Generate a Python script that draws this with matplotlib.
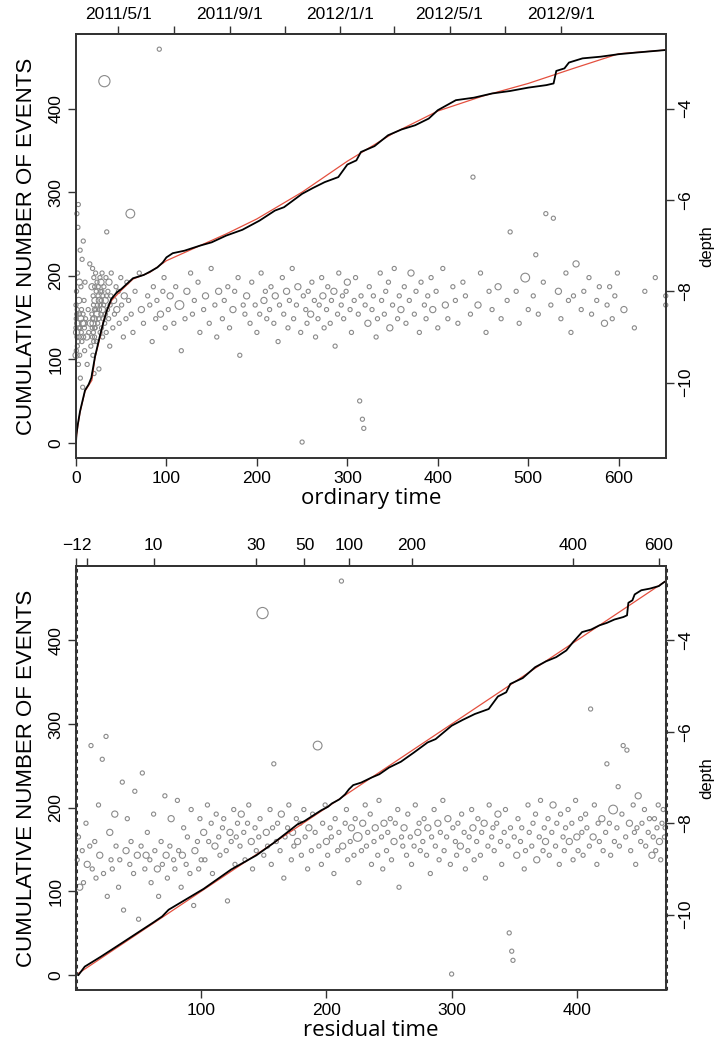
import numpy as np
import matplotlib
matplotlib.use('Agg')
import matplotlib.pyplot as plt
from matplotlib.transforms import ScaledTranslation

plt.rcParams['font.family'] = ['Liberation Sans', 'DejaVu Sans']

# compensator (theoretical cumulative number), red curve: ordinary time vs count
model_t = [0, 1, 2, 4.4, 10, 17.6, 21, 26.5, 30, 34, 39, 50, 63, 81.6, 100, 137, 166,
           200, 250, 300, 350, 400, 450, 500, 550, 600, 652]
model_c = [2, 12, 20, 36, 62, 75, 102, 126, 144, 158, 170, 182.5, 196, 204, 218, 236, 250,
           268, 300, 337, 370, 397, 415, 430, 448, 465.5, 470]

# observed cumulative number of events, black curve
obs_t = [0, 0.5, 2, 4.5, 10, 14, 17, 21, 26, 30, 34, 39, 45, 50, 58, 63, 75, 82, 90, 96,
         100, 107, 120, 137, 150, 166, 184, 203, 220, 230, 250, 262, 275, 290, 300, 310,
         315, 330, 345, 360, 375, 390, 400, 420, 440, 460, 480, 500, 520, 528, 531, 540,
         545, 560, 580, 600, 620, 652]
obs_c = [0, 10, 22, 38, 63, 70, 78, 103, 126, 143, 158, 172, 180, 184, 192, 197, 201,
         205, 210, 216, 222, 227, 230, 236, 240, 248, 255, 266, 278, 282, 298, 305, 312,
         318, 333, 338, 348, 355, 368, 375, 380, 388, 398, 410, 413, 418, 421, 425, 428,
         430, 445, 448, 455, 460, 462, 465, 467, 470]

# events: residual time, depth, size class (magnitude)
ev_res = [1, 2, 3, 5, 6, 8, 9, 11, 12, 13,
          15, 16, 18, 19, 21, 22, 24, 25, 27, 28,
          29, 31, 32, 34, 35, 37, 38, 40, 41, 43,
          44, 46, 47, 49, 50, 52, 53, 55, 56, 57,
          59, 60, 62, 63, 65, 66, 68, 69, 71, 72,
          73, 75, 76, 78, 79, 81, 82, 84, 85, 86,
          88, 89, 91, 92, 94, 95, 97, 98, 99, 100,
          102, 103, 105, 106, 108, 109, 111, 112, 114, 115,
          117, 118, 120, 121, 123, 124, 126, 127, 128, 129,
          131, 132, 134, 135, 137, 138, 140, 141, 143, 144,
          146, 147, 149, 150, 152, 153, 155, 156, 157, 158,
          160, 161, 163, 164, 166, 167, 169, 170, 172, 173,
          174, 176, 177, 179, 180, 182, 183, 185, 186, 188,
          189, 191, 193, 194, 196, 197, 199, 200, 201, 203,
          204, 206, 207, 209, 210, 212, 213, 215, 216, 217,
          219, 220, 222, 223, 225, 226, 228, 229, 231, 232,
          233, 235, 236, 238, 239, 241, 242, 244, 245, 246,
          248, 249, 251, 252, 254, 255, 257, 258, 260, 261,
          262, 264, 265, 267, 268, 270, 271, 273, 274, 275,
          277, 278, 280, 281, 283, 284, 286, 287, 289, 290,
          291, 293, 294, 296, 297, 299, 300, 301, 303, 304,
          305, 307, 308, 310, 311, 313, 314, 316, 317, 318,
          320, 321, 323, 324, 326, 327, 329, 330, 332, 333,
          334, 336, 337, 339, 340, 342, 343, 345, 346, 347,
          348, 349, 350, 352, 353, 355, 356, 358, 359, 361,
          362, 364, 365, 367, 368, 370, 371, 373, 374, 375,
          377, 378, 380, 381, 383, 384, 386, 387, 389, 390,
          391, 393, 394, 396, 397, 399, 400, 401, 403, 404,
          405, 407, 408, 410, 411, 413, 414, 416, 417, 418,
          420, 421, 423, 424, 426, 427, 429, 430, 432, 433,
          434, 436, 437, 439, 440, 442, 443, 445, 446, 447,
          448, 449, 451, 452, 454, 455, 457, 458, 460, 461,
          462, 463, 464, 465, 466, 467, 468, 469, 470, 470.5]
ev_dep = [-8.8, -8.3, -9.4, -8.6, -9.3, -8.0, -8.9, -8.5, -6.3, -9.0,
          -8.4, -9.2, -7.6, -8.7, -6.6, -9.1, -6.1, -9.6, -8.2, -8.8,
          -9.0, -7.8, -8.5, -9.4, -8.8, -7.1, -9.9, -8.6, -7.9, -8.9,
          -8.4, -9.1, -7.3, -8.7, -10.1, -8.5, -6.9, -9.0, -8.7, -8.2,
          -8.8, -9.3, -7.8, -8.6, -9.0, -9.6, -8.4, -8.9, -7.4, -8.7,
          -9.2, -8.5, -7.9, -8.8, -9.0, -7.5, -8.6, -9.4, -8.7, -8.1,
          -8.9, -8.3, -9.1, -7.7, -9.8, -8.6, -8.4, -9.0, -7.9, -8.8,
          -8.2, -8.8, -7.6, -8.4, -8.0, -9.1, -8.5, -7.8, -8.3, -8.7,
          -8.1, -7.9, -8.6, -9.7, -8.2, -8.4, -7.7, -8.9, -8.3, -8.0,
          -8.5, -7.8, -8.2, -8.8, -8.0, -7.6, -8.4, -9.0, -8.1, -8.6,
          -8.3, -7.9, -3.4, -8.7, -8.2, -8.5, -7.7, -8.9, -8.1, -6.7,
          -8.4, -8.0, -8.6, -7.8, -9.2, -8.3, -8.1, -7.6, -8.8, -8.2,
          -8.5, -7.9, -8.4, -8.0, -8.7, -7.7, -8.3, -9.0, -8.1, -8.6,
          -7.8, -8.2, -6.3, -8.5, -8.9, -8.0, -7.6, -8.4, -8.7, -8.1,
          -8.3, -9.1, -7.9, -8.6, -8.2, -2.7, -8.5, -8.0, -7.7, -8.8,
          -8.4, -8.1, -8.7, -7.9, -8.3, -9.3, -8.6, -8.0, -7.6, -8.5,
          -8.2, -7.8, -8.9, -8.4, -8.1, -8.7, -7.5, -8.3, -9.0, -8.0,
          -8.6, -8.2, -7.9, -8.8, -8.4, -8.0, -7.7, -9.4, -8.3, -8.5,
          -8.1, -8.7, -7.8, -8.3, -8.9, -8.5, -7.6, -8.2, -8.0, -8.6,
          -8.4, -7.9, -8.7, -8.1, -9.1, -8.3, -7.7, -8.5, -8.0, -8.8,
          -8.2, -7.5, -8.6, -8.3, -7.9, -8.9, -11.3, -8.1, -8.4, -8.7,
          -8.0, -8.5, -7.8, -8.2, -9.0, -8.6, -8.3, -7.7, -8.1, -8.8,
          -8.4, -7.9, -8.7, -8.2, -8.0, -9.2, -8.5, -7.6, -8.3, -8.1,
          -8.6, -8.0, -7.8, -8.4, -8.9, -8.2, -7.7, -8.5, -10.4, -8.1,
          -10.8, -11.0, -8.3, -8.7, -7.9, -8.4, -8.1, -9.0, -8.6, -7.6,
          -8.2, -8.5, -8.0, -7.8, -8.8, -8.3, -7.5, -8.6, -8.1, -8.4,
          -7.9, -8.7, -8.2, -7.6, -8.5, -8.0, -8.9, -7.8, -8.3, -8.6,
          -8.1, -7.7, -8.4, -8.0, -8.8, -7.5, -8.3, -8.6, -7.9, -8.2,
          -8.7, -7.8, -8.1, -8.5, -5.5, -8.3, -7.6, -8.9, -8.0, -8.4,
          -7.9, -8.6, -8.2, -6.7, -8.0, -8.7, -7.7, -8.4, -8.1, -7.2,
          -8.5, -7.8, -6.3, -8.3, -6.4, -8.0, -8.6, -7.6, -8.2, -8.9,
          -8.1, -7.4, -8.4, -8.0, -7.7, -8.5, -8.2, -7.9, -8.7, -8.3,
          -7.9, -8.6, -8.1, -7.6, -8.4, -8.8, -8.0, -7.7, -8.3, -8.1]
ev_size = [1, 1, 2, 1, 1, 1, 2, 1, 1, 1,
           1, 1, 1, 2, 1, 1, 1, 1, 2, 1,
           1, 2, 1, 1, 1, 1, 1, 2, 1, 1,
           1, 1, 1, 2, 1, 1, 1, 1, 2, 1,
           1, 1, 1, 1, 2, 1, 1, 1, 1, 2,
           1, 1, 2, 1, 1, 1, 1, 1, 2, 1,
           1, 1, 1, 1, 1, 2, 1, 1, 1, 1,
           2, 1, 1, 1, 1, 1, 2, 1, 1, 1,
           1, 1, 1, 1, 2, 1, 1, 1, 1, 1,
           1, 2, 1, 1, 1, 1, 2, 1, 1, 1,
           1, 1, 4, 1, 2, 1, 1, 1, 1, 1,
           1, 1, 1, 2, 1, 1, 1, 1, 1, 2,
           1, 1, 2, 1, 1, 1, 1, 1, 2, 1,
           1, 1, 3, 1, 1, 1, 1, 2, 1, 1,
           1, 1, 1, 1, 1, 1, 2, 1, 1, 1,
           1, 2, 1, 1, 3, 1, 1, 2, 1, 1,
           1, 1, 1, 1, 2, 1, 1, 1, 1, 2,
           1, 1, 1, 1, 2, 1, 1, 1, 1, 1,
           2, 1, 1, 1, 1, 1, 1, 2, 1, 1,
           1, 1, 1, 2, 1, 1, 1, 1, 2, 1,
           1, 1, 1, 1, 2, 1, 1, 1, 1, 1,
           1, 2, 1, 1, 1, 1, 1, 1, 2, 1,
           1, 1, 1, 1, 2, 1, 1, 1, 1, 1,
           1, 1, 2, 1, 1, 1, 1, 1, 1, 1,
           1, 1, 1, 2, 1, 1, 1, 1, 1, 1,
           1, 1, 1, 1, 2, 1, 1, 1, 1, 2,
           1, 1, 1, 2, 1, 1, 1, 1, 1, 1,
           1, 1, 2, 1, 1, 1, 2, 1, 1, 1,
           1, 1, 1, 1, 1, 2, 1, 1, 1, 1,
           2, 1, 1, 1, 1, 1, 3, 1, 1, 1,
           1, 1, 1, 1, 1, 2, 1, 1, 1, 1,
           1, 2, 1, 1, 1, 1, 1, 1, 2, 1,
           1, 1, 1, 1, 2, 1, 1, 1, 1, 1]

# calendar ticks of the top panel (day 0 = 2011/3/15)
t_origin = '2011-03-15'
date_ticks = ['2011-05-01', '2011-07-01', '2011-09-01', '2011-11-01', '2012-01-01',
              '2012-03-01', '2012-05-01', '2012-07-01', '2012-09-01']
date_labels = ['2011/5/1', '', '2011/9/1', '', '2012/1/1', '', '2012/5/1', '', '2012/9/1']

# ordinary time marks on the residual-time panel
ord_labels = ['', '\u221212', '10', '30', '50', '100', '200', '400', '600']
ord_pos = [0, 8.8, 62, 144, 182.5, 218, 268, 397, 465.5]

size_map = {1: 9, 2: 20, 3: 40, 4: 65}
sizes = [size_map[k] for k in ev_size]
# ordinary time of each event through the compensator
ev_ord = np.interp(ev_res, model_c, model_t)

fig = plt.figure(figsize=(7.14, 10.53), dpi=100)
ax1 = fig.add_axes([0.1064, 0.565, 0.826, 0.4026])
ax2 = fig.add_axes([0.1064, 0.0598, 0.826, 0.4027])

lab_font = {'family': ['Open Sans', 'DejaVu Sans'], 'size': 16}
spine_col = '#333333'


def style(ax):
    for s in ax.spines.values():
        s.set_color(spine_col)
        s.set_linewidth(1.2)
    ax.tick_params(direction='out', length=6, width=1, color=spine_col,
                   labelsize=12.5, pad=3)


for ax, xs, lo, hi in [(ax1, ev_ord, 0, 652), (ax2, ev_res, 0, 471)]:
    axd = ax.twinx()
    axd.scatter(xs, ev_dep, s=sizes, facecolors='none', edgecolors='#8a8a8a',
                linewidths=0.8, clip_on=False)
    axd.set_ylim(-11.65, -2.37)
    axd.set_yticks([-4, -6, -8, -10])
    axd.set_yticklabels(['\u22124', '\u22126', '\u22128', '\u221210'], rotation=90,
                        va='center')
    axd.set_ylabel('depth', fontsize=12, labelpad=4)
    style(axd)
    ax.set_zorder(axd.get_zorder() + 1)
    ax.patch.set_visible(False)
    ax.set_xlim(lo, hi)
    ax.set_ylim(-18, 489)
    ax.set_yticks([0, 100, 200, 300, 400])
    ax.set_yticklabels(['0', '100', '200', '300', '400'], rotation=90, va='center')
    ax.set_ylabel('CUMULATIVE NUMBER OF EVENTS', fontsize=16, labelpad=8)
    style(ax)

# top panel: ordinary time
ax1.plot(model_t, model_c, color='#e4503f', lw=0.9)
ax1.plot(obs_t, obs_c, color='black', lw=1.3)
ax1.set_xticks([0, 100, 200, 300, 400, 500, 600])
ax1.set_xlabel('ordinary time', fontdict=lab_font, labelpad=2)
top1 = ax1.secondary_xaxis('top')
days = [(np.datetime64(d) - np.datetime64(t_origin)).astype(int) for d in date_ticks]
top1.set_xticks(days)
top1.set_xticklabels(date_labels)
style(top1)

# bottom panel: residual time
obs_res = np.interp(obs_t, model_t, model_c)
ax2.plot([0, 471], [0, 471], color='#e4503f', lw=0.9)
ax2.plot(obs_res, obs_c, color='black', lw=1.3)
ax2.set_xticks([100, 200, 300, 400])
ax2.set_xlabel('residual time', fontdict=lab_font, labelpad=2)
# dashed look of the side frames
for xe in (0, 471):
    ax2.axvline(xe, color=spine_col, lw=2.2, ls=(0, (1.2, 1.2)), clip_on=False)
top2 = ax2.secondary_xaxis('top')
top2.set_xticks(ord_pos)
top2.set_xticklabels(ord_labels)
style(top2)
shift = ScaledTranslation(-0.10, 0, fig.dpi_scale_trans)
for lab in top2.get_xticklabels():
    if lab.get_text() == '\u221212':
        lab.set_transform(lab.get_transform() + shift)

fig.savefig('out.png', dpi=100)
